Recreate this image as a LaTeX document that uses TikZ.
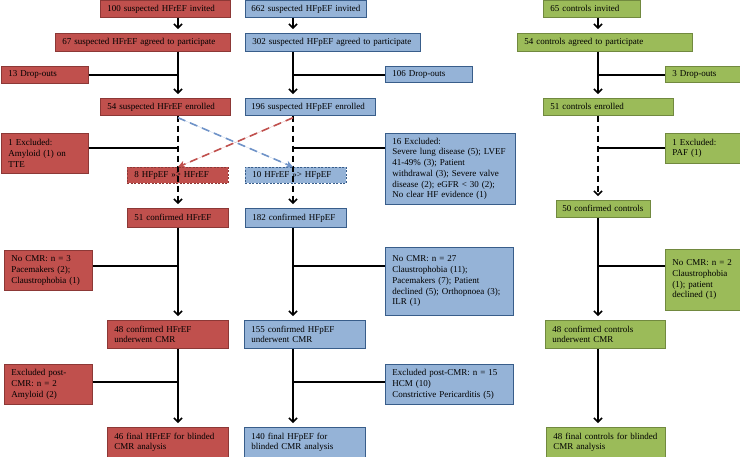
\documentclass[tikz,border=0pt]{standalone}
\usepackage{fontspec}
\setmainfont{Liberation Serif}
\usepackage{xcolor}
\usepackage{tikz}
\usetikzlibrary{arrows.meta, positioning}

\definecolor{hfrfill}{HTML}{C0504D}
\definecolor{hfrline}{HTML}{8C3836}
\definecolor{hfpfill}{HTML}{95B3D7}
\definecolor{hfpline}{HTML}{385D8A}
\definecolor{ctlfill}{HTML}{9BBB59}
\definecolor{ctlline}{HTML}{71893F}
\definecolor{swapred}{HTML}{C0504D}
\definecolor{swapblue}{HTML}{6F93C8}

\begin{document}
\begin{tikzpicture}[x=1pt, y=-1pt,
	box/.style={draw, anchor=north west, inner xsep=7pt, inner ysep=1pt, align=left,
		line width=0.7pt, font=\fontsize{9}{10.7}\selectfont},
	hfr/.style={box, fill=hfrfill, draw=hfrline},
	hfp/.style={box, fill=hfpfill, draw=hfpline},
	ctl/.style={box, fill=ctlfill, draw=ctlline},
	swapbox/.style={dash pattern=on 2pt off 1.5pt},
	flow/.style={line width=1.5pt, -{Straight Barb[length=4pt, width=8pt]}, shorten >=4pt},
	dflow/.style={flow, dash pattern=on 6pt off 4pt},
	link/.style={line width=1.5pt},
	swap/.style={line width=1.6pt, dash pattern=on 8pt off 5pt, -{Stealth[length=7pt, width=7pt, inset=2pt]}}]
	\useasboundingbox (0,0) rectangle (740,456);
	% Column axes:
	\coordinate (A) at (178,0);
	\coordinate (B) at (293,0);
	\coordinate (C) at (598,0);
	% HFrEF column:
	\node[hfr, text width=116pt, minimum height=17pt](R1) at (100,0){100 suspected HFrEF invited};
	\node[hfr, text width=161pt, minimum height=18pt](R2) at (55,33){67 suspected HFrEF agreed to participate};
	\node[hfr, text width=73pt, minimum height=17pt](R3) at (1,66){13 Drop-outs};
	\node[hfr, text width=116pt, minimum height=17pt](R4) at (100,98){54 suspected HFrEF enrolled};
	\node[hfr, text width=73pt, minimum height=40pt](R5) at (1,133){1 Excluded:\\Amyloid (1) on\\TTE};
	\node[hfr, swapbox, text width=87pt, minimum height=16pt](R6) at (127,167){8 HFpEF \textgreater\textgreater\textgreater{} HFrEF};
	\node[hfr, text width=87pt, minimum height=19pt](R7) at (127,208){51 confirmed HFrEF};
	\node[hfr, text width=74pt, minimum height=40pt](R8) at (4,250){No CMR: n = 3\\Pacemakers (2);\\Claustrophobia (1)};
	\node[hfr, text width=107pt, minimum height=28pt](R9) at (107,320){48 confirmed HFrEF\\underwent CMR};
	\node[hfr, text width=74pt, minimum height=40pt](R10) at (4,364){Excluded post-\\CMR: n = 2\\Amyloid (2)};
	\node[hfr, text width=107pt, minimum height=30pt](R11) at (107,427){46 final HFrEF for blinded\\CMR analysis};
	% HFpEF column:
	\node[hfp, inner xsep=6pt, text width=109pt, minimum height=17pt](P1) at (245,0){662 suspected HFpEF invited};
	\node[hfp, text width=161pt, minimum height=18pt](P2) at (245,33){302 suspected HFpEF agreed to participate};
	\node[hfp, text width=73pt, minimum height=16pt](P3) at (385,66){106 Drop-outs};
	\node[hfp, inner xsep=6pt, text width=118pt, minimum height=17pt](P4) at (245,98){196 suspected HFpEF enrolled};
	\node[hfp, text width=116pt, minimum height=71pt](P5) at (385,133){16 Excluded:\\Severe lung disease (5); LVEF\\41-49\% (3); Patient\\withdrawal (3); Severe valve\\disease (2); eGFR < 30 (2);\\No clear HF evidence (1)};
	\node[hfp, swapbox, text width=87pt, minimum height=16pt](P6) at (245,167){10 HFrEF \textgreater\textgreater\textgreater{} HFpEF};
	\node[hfp, text width=87pt, minimum height=19pt](P7) at (245,208){182 confirmed HFpEF};
	\node[hfp, text width=114pt, minimum height=68pt](P8) at (385,247){No CMR: n = 27\\Claustrophobia (11);\\Pacemakers (7); Patient\\declined (5); Orthopnoea (3);\\ILR (1)};
	\node[hfp, text width=107pt, minimum height=28pt](P9) at (244,320){155 confirmed HFpEF\\underwent CMR};
	\node[hfp, text width=114pt, minimum height=40pt](P10) at (385,364){Excluded post-CMR: n = 15\\HCM (10)\\Constrictive Pericarditis (5)};
	\node[hfp, text width=107pt, minimum height=30pt](P11) at (244,427){140 final HFpEF for\\blinded CMR analysis};
	% Controls column:
	\node[ctl, text width=83pt, minimum height=17pt](G1) at (543,0){65 controls invited};
	\node[ctl, text width=161pt, minimum height=18pt](G2) at (517,33){54 controls agreed to participate};
	\node[ctl, text width=63pt, minimum height=16pt](G3) at (665,66){3 Drop-outs};
	\node[ctl, text width=116pt, minimum height=17pt](G4) at (543,98){51 controls enrolled};
	\node[ctl, text width=63pt, minimum height=30pt](G5) at (665,133){1 Excluded:\\PAF (1)};
	\node[ctl, inner xsep=6pt, text width=82pt, minimum height=17pt](G6) at (556,200){50 confirmed controls};
	\node[ctl, text width=63pt, minimum height=61pt](G7) at (665,249){No CMR: n = 2\\Claustrophobia\\(1); patient\\declined (1)};
	\node[ctl, text width=106pt, minimum height=28pt](G8) at (545,320){48 confirmed controls\\underwent CMR};
	\node[ctl, text width=105pt, minimum height=30pt](G9) at (546,427){48 final controls for blinded\\CMR analysis};
	% Main flow:
	\draw[flow] (R1.south -| A) -- (R2.north -| A);
	\draw[flow] (R2.south -| A) -- (R4.north -| A);
	\draw[dflow] (R4.south -| A) -- (R7.north -| A);
	\draw[flow] (R7.south -| A) -- (R9.north -| A);
	\draw[flow] (R9.south -| A) -- (R11.north -| A);
	\draw[flow] (P1.south -| B) -- (P2.north -| B);
	\draw[flow] (P2.south -| B) -- (P4.north -| B);
	\draw[dflow] (P4.south -| B) -- (P7.north -| B);
	\draw[flow] (P7.south -| B) -- (P9.north -| B);
	\draw[flow] (P9.south -| B) -- (P11.north -| B);
	\draw[flow] (G1.south -| C) -- (G2.north -| C);
	\draw[flow] (G2.south -| C) -- (G4.north -| C);
	\draw[dflow] (G4.south -| C) -- (G6.north -| C);
	\draw[flow] (G6.south -| C) -- (G8.north -| C);
	\draw[flow] (G8.south -| C) -- (G9.north -| C);
	% Side branches:
	\coordinate (JA1) at (178,75);  \coordinate (JB1) at (293,75);  \coordinate (JC1) at (598,75);
	\coordinate (JA2) at (178,148); \coordinate (JB2) at (293,148); \coordinate (JC2) at (598,148);
	\coordinate (JA3) at (178,266); \coordinate (JB3) at (293,266); \coordinate (JC3) at (598,266);
	\coordinate (JA4) at (178,382); \coordinate (JB4) at (293,382);
	\draw[link] (R3.east |- JA1) -- (JA1);
	\draw[link] (R5.east |- JA2) -- (JA2);
	\draw[link] (R8.east |- JA3) -- (JA3);
	\draw[link] (R10.east |- JA4) -- (JA4);
	\draw[link] (JB1) -- (P3.west |- JB1);
	\draw[link] (JB2) -- (P5.west |- JB2);
	\draw[link] (JB3) -- (P8.west |- JB3);
	\draw[link] (JB4) -- (P10.west |- JB4);
	\draw[link] (JC1) -- (G3.west |- JC1);
	\draw[link] (JC2) -- (G5.west |- JC2);
	\draw[link] (JC3) -- (G7.west |- JC3);
	% Reclassification:
	\draw[swap, draw=swapblue, fill=swapblue] ([yshift=-2pt]R4.south -| A) -- (P6.north -| B);
	\draw[swap, draw=swapred, fill=swapred] ([yshift=-2pt]P4.south -| B) -- (R6.north -| A);
\end{tikzpicture}
\end{document}
